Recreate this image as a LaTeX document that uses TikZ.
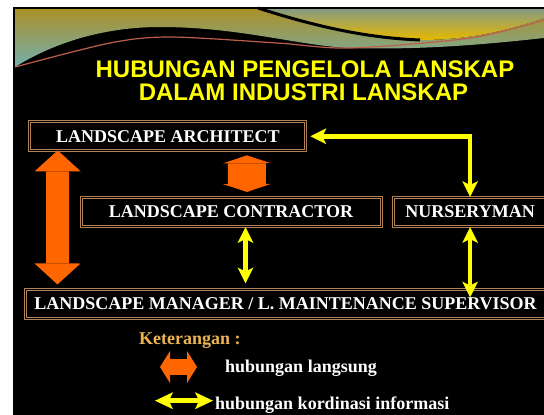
\documentclass[tikz,border=0pt]{standalone}
\usepackage{fontspec}
\setmainfont{Liberation Serif}
\newfontfamily\titlesans{Liberation Sans}
\usetikzlibrary{positioning,arrows.meta,calc}
\definecolor{slideolive}{RGB}{170,145,40}
\definecolor{slideteal}{RGB}{115,175,175}
\definecolor{slidegray}{RGB}{135,155,130}
\definecolor{slidegold}{RGB}{230,185,0}
\definecolor{swooshred}{RGB}{190,95,75}
\definecolor{boxtan}{RGB}{175,130,90}
\definecolor{linkorange}{RGB}{255,102,0}
\definecolor{linkyellow}{RGB}{255,255,0}
\definecolor{notegold}{RGB}{235,180,80}

\begin{document}
\begin{tikzpicture}[x=1pt, y=-1pt]
  \tikzset{role/.style={draw=boxtan, double=black, double distance=0.8pt, line width=1.1pt, fill=black, text=white,
      font=\bfseries\fontsize{18}{20}\selectfont, minimum height=29pt, inner sep=0pt},
    titletext/.style={text=linkyellow, font=\titlesans\bfseries\fontsize{24}{26}\selectfont, inner sep=0pt},
    legendtext/.style={text=white, font=\bfseries\fontsize{18}{20}\selectfont, inner sep=0pt},
    direct/.style n args={3}{linkorange, line width=#1,
      {Triangle[length=#2 0 0, width=#3 0 0, line width=0pt]}-{Triangle[length=#2 0 0, width=#3 0 0, line width=0pt]}},
    info/.style n args={3}{linkyellow, line width=#1,
      {Stealth[length=#2 0 0, width=#3 0 0, inset=4pt, line width=0pt]}-{Stealth[length=#2 0 0, width=#3 0 0, inset=4pt, line width=0pt]}}}

  \useasboundingbox (0,0) rectangle (544,415);
  \fill[white] (0,0) rectangle (544,415);
  \fill[black] (13,7) rectangle (544,415);
  \shade[top color=slideolive, bottom color=slideteal] (15,9) -- (262,9) .. controls (320,28) and (370,38) .. (420,40)
    .. controls (470,40) and (510,30) .. (544,18) -- (544,38) .. controls (480,45) and (420,50) .. (350,48)
    .. controls (300,46) and (240,27) .. (160,27) .. controls (100,27) and (50,45) .. (15,67) -- cycle;
  \shade[top color=slidegray, bottom color=slidegold] (262,9) -- (544,9) -- (544,18) .. controls (510,30) and (470,40) .. (420,40)
    .. controls (370,38) and (320,28) .. (262,9) -- cycle;
  \draw[black, line width=3pt] (258,8) .. controls (320,28) and (370,38) .. (420,40);
  \draw[swooshred, line width=1.2pt] plot[smooth] coordinates {(15,67) (110,43) (170,37) (277,43) (350,48) (470,38) (544,20)};

  \node[titletext, anchor=base] (title1) at (305,77) {HUBUNGAN PENGELOLA LANSKAP};
  \node[titletext, anchor=base] (title2) at (303.5,100) {DALAM INDUSTRI LANSKAP};

  \node[role, minimum width=276pt] (arch) at (167.8,136.3) {LANDSCAPE ARCHITECT};
  \node[role, minimum width=300pt] (contr) at (231,212) {LANDSCAPE CONTRACTOR};
  \node[role, minimum width=154pt, right=11pt of contr] (nurs) {NURSERYMAN};
  \node[role, minimum width=521pt] (mgr) at (285.5,303.5) {LANDSCAPE MANAGER / L. MAINTENANCE SUPERVISOR};

  \draw[direct={23pt}{21pt}{46pt}] ($(arch.south west)+(28.5,-1)$) -- ($(mgr.north west)+(33,-4)$);
  \draw[direct={38pt}{8pt}{48pt}] ($(arch.south)+(79,4)$) -- ($(contr.north)+(16,-5)$);
  \draw[info={4.5pt}{16pt}{16pt}] (nurs.north) |- ($(arch.east)+(4,0)$);
  \draw[info={4.5pt}{16pt}{16pt}] ($(contr.south)+(14.5,0)$) -- ($(mgr.north)+(-40,-5)$);
  \draw[info={4.5pt}{16pt}{16pt}] (nurs.south) -- ($(mgr.north -| nurs.south)+(0,9)$);

  \node[legendtext, text=notegold, anchor=base west] (note) at (139,344) {Keterangan :};
  \coordinate (directA) at (160,367);
  \coordinate (directB) at (197,367);
  \draw[direct={16pt}{10pt}{32pt}] (directA) -- (directB);
  \node[legendtext, anchor=base west] (langsung) at (225,372.7) {hubungan langsung};
  \coordinate (infoA) at (155,400.7);
  \coordinate (infoB) at (213,400.7);
  \draw[info={5pt}{18pt}{17pt}] (infoA) -- (infoB);
  \node[legendtext, anchor=base west] (kordinasi) at (215,409) {hubungan kordinasi informasi};
\end{tikzpicture}
\end{document}
